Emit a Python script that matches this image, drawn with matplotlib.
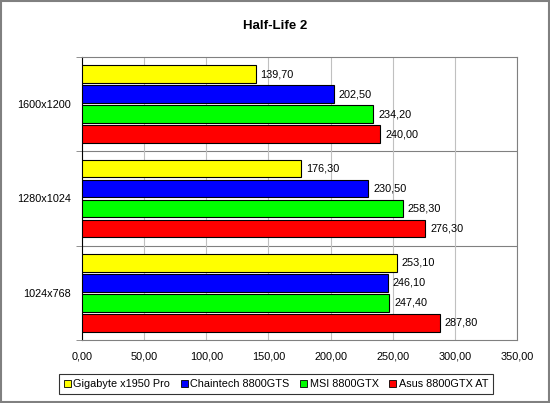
import matplotlib
matplotlib.use('Agg')
import matplotlib.pyplot as plt
import numpy as np
from matplotlib.patches import Rectangle

plt.rcParams['font.family'] = ['Liberation Sans', 'DejaVu Sans']

categories = ['1600x1200', '1280x1024', '1024x768']
series = ['Gigabyte x1950 Pro', 'Chaintech 8800GTS', 'MSI 8800GTX', 'Asus 8800GTX AT']
colors = ['#ffff00', '#0000ff', '#00ff00', '#ff0000']
values = {
    'Gigabyte x1950 Pro': [139.70, 176.30, 253.10],
    'Chaintech 8800GTS': [202.50, 230.50, 246.10],
    'MSI 8800GTX': [234.20, 258.30, 247.40],
    'Asus 8800GTX AT': [240.00, 276.30, 287.80],
}
xticks = np.arange(0, 351, 50)

fig = plt.figure(figsize=(5.5, 4.03), dpi=100)
ax = fig.add_axes([0.149, 0.1563, 0.791, 0.7023])

# категории сверху вниз
ypos = np.arange(len(categories))[::-1]
pitch = 0.212
bh = 0.19
for i, s in enumerate(series):
    y = ypos + (1.5 - i) * pitch
    ax.barh(y, values[s], height=bh, color=colors[i], edgecolor='black', linewidth=0.8,
            label=s, zorder=3)
    for yy, v in zip(y, values[s]):
        ax.text(v + 4, yy, f'{v:.2f}'.replace('.', ','), va='center', ha='left',
                fontsize=7.8, zorder=4)

ax.set_xlim(0, 350)
ax.set_ylim(-0.5, 2.5)
ax.set_xticks(xticks)
ax.set_xticklabels([f'{t:.2f}'.replace('.', ',') for t in xticks], fontsize=7.8)
ax.set_yticks(ypos)
ax.set_yticklabels(categories, fontsize=7.8)
ax.tick_params(axis='y', length=0, pad=8)
ax.tick_params(axis='x', length=0, pad=8)
ax.set_yticks([-0.5, 0.5, 1.5, 2.5], minor=True)
ax.tick_params(axis='y', which='minor', length=4, color='#808080')

ax.grid(axis='x', color='#c0c0c0', linewidth=0.8, zorder=0)
for b in [0.5, 1.5]:
    ax.axhline(b, color='#808080', linewidth=0.8, zorder=1)
for sp in ax.spines.values():
    sp.set_color('#808080')
    sp.set_linewidth(0.8)
ax.spines['left'].set_color('black')

fig.text(0.5, 0.935, 'Half-Life 2', ha='center', va='center', fontsize=9.5,
         fontweight='bold')

leg = fig.legend(loc='center', bbox_to_anchor=(0.502, 0.047), ncol=4, fontsize=7.8,
                 frameon=True, fancybox=False, edgecolor='black', handlelength=0.6,
                 handleheight=0.6, handletextpad=0.25, columnspacing=1.0,
                 borderpad=0.45)
leg.get_frame().set_linewidth(0.8)
for h in leg.legend_handles:
    h.set_linewidth(0.6)

fig.patches.append(Rectangle((0.002, 0.002), 0.996, 0.996, transform=fig.transFigure,
                             fill=False, edgecolor='#808080', linewidth=1.5))

plt.savefig('out.png', dpi=100)
